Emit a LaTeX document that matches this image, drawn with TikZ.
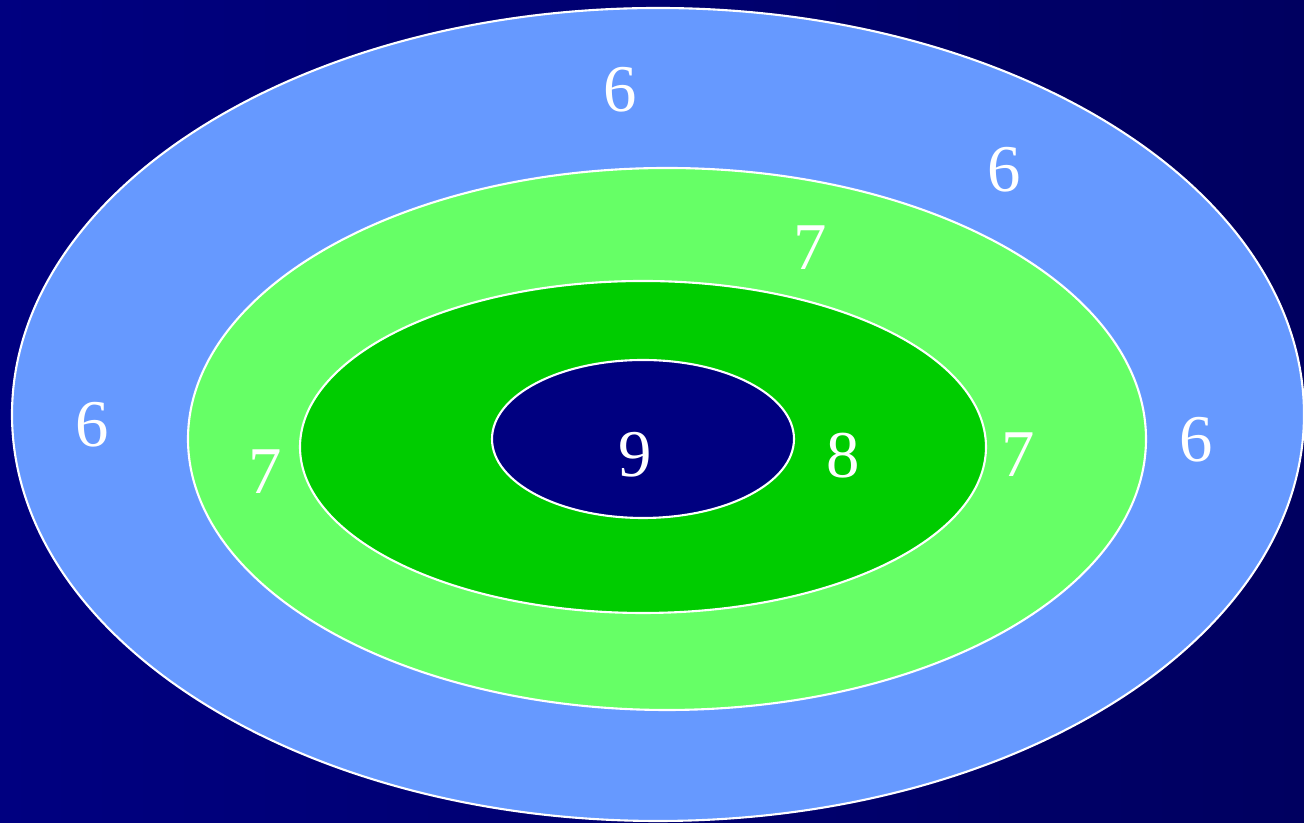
\documentclass[tikz,border=0pt]{standalone}
\usepackage{fontspec}
\setmainfont{Liberation Serif}
\definecolor{bgleft}{HTML}{000080}
\definecolor{bgright}{HTML}{000060}
\definecolor{ringblue}{HTML}{6699FF}
\definecolor{ringlight}{HTML}{66FF66}
\definecolor{ringgreen}{HTML}{00CC00}
\definecolor{corenavy}{HTML}{000080}

\begin{document}
\begin{tikzpicture}[
  ring/.style={draw=white, line width=1.2pt},
  score/.style={text=white, inner sep=0pt, font=\fontsize{38}{40}\selectfont}
]
\shade[left color=bgleft, right color=bgright] (0,0) rectangle (26.08,16.46);
\useasboundingbox (0,0) rectangle (26.08,16.46);

% rings, outside in
\draw[ring, fill=ringblue]  (13.16,8.17) ellipse [x radius=12.92, y radius=8.13];
\draw[ring, fill=ringlight] (13.34,7.68) ellipse [x radius=9.58, y radius=5.42];
\draw[ring, fill=ringgreen] (12.86,7.52) ellipse [x radius=6.86, y radius=3.32];
\draw[ring, fill=corenavy]  (12.86,7.68) ellipse [x radius=3.02, y radius=1.58];

% scores
\node[score] (s6top)   at (12.40,14.66) {6};
\node[score] (s6upper) at (20.08,13.06) {6};
\node[score] (s6left)  at (1.84,7.96)   {6};
\node[score] (s6right) at (23.92,7.66)  {6};
\node[score] (s7top)   at (16.20,11.50) {7};
\node[score] (s7left)  at (5.30,7.02)   {7};
\node[score] (s7right) at (20.36,7.36)  {7};
\node[score] (s8)      at (16.86,7.34)  {8};
\node[score] (s9)      at (12.70,7.36)  {9};
\end{tikzpicture}
\end{document}
